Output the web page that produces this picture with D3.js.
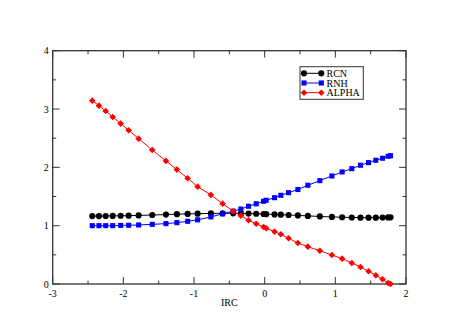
<!DOCTYPE html>
<html><head><meta charset="utf-8">
<script src="https://cdn.jsdelivr.net/npm/d3@7"></script>
<style>body{margin:0;background:#fff}svg{display:block}</style>
</head><body>
<svg id="c" width="457" height="335"></svg>
<script>
const irc = [-2.44,-2.345,-2.25,-2.151,-2.038,-1.925,-1.784,-1.591,-1.397,-1.242,-1.09,-0.949,-0.761,-0.595,-0.446,-0.337,-0.228,-0.12,-0.016,0.021,0.14,0.229,0.338,0.47,0.611,0.781,0.951,1.096,1.233,1.356,1.47,1.573,1.668,1.747,1.781];
const rcn = [1.165,1.165,1.166,1.168,1.17,1.172,1.176,1.183,1.19,1.197,1.202,1.206,1.21,1.212,1.212,1.21,1.207,1.204,1.2,1.198,1.193,1.189,1.183,1.176,1.168,1.158,1.15,1.145,1.14,1.138,1.137,1.138,1.14,1.142,1.143];
const rnh = [1.0,1.0,1.0,1.0,1.005,1.007,1.012,1.023,1.035,1.052,1.075,1.1,1.15,1.203,1.25,1.285,1.333,1.375,1.418,1.436,1.48,1.521,1.566,1.62,1.693,1.772,1.852,1.921,1.978,2.036,2.081,2.122,2.156,2.19,2.2];
const alpha = [3.144,3.058,2.967,2.864,2.75,2.636,2.492,2.298,2.11,1.961,1.813,1.669,1.527,1.377,1.247,1.172,1.093,1.034,0.978,0.955,0.897,0.852,0.784,0.703,0.64,0.57,0.497,0.434,0.36,0.292,0.218,0.149,0.081,0.017,0.0];
const xTicks = [-3,-2,-1,0,1,2];
const yTicks = [0,1,2,3,4];
const seriesNames = ["RCN","RNH","ALPHA"];
const seriesColors = ["#000000","#0000ff","#ff0000"];
const seriesShapes = [d3.symbolCircle, d3.symbolSquare, d3.symbolSquare];
const seriesSizes = [30, 26, 22];
const seriesRot = [0, 0, 45];

const svg = d3.select("#c");
const L=52.7, R=406, T=50.7, B=284;
const x = d3.scaleLinear().domain([-3,2]).range([L,R]);
const y = d3.scaleLinear().domain([0,4]).range([B,T]);
const font = "'Liberation Serif', 'Times New Roman', serif";
const axCol = "#333";

svg.append("rect").attr("x",L).attr("y",T).attr("width",R-L).attr("height",B-T)
  .attr("fill","none").attr("stroke",axCol).attr("stroke-width",1.3);

const xMinor = d3.range(-2.5,2,1);
const yMinor = d3.range(0.5,4,1);
const tk = svg.append("g").attr("stroke",axCol).attr("stroke-width",1);
xTicks.forEach(v=>{ tk.append("line").attr("x1",x(v)).attr("x2",x(v)).attr("y1",B).attr("y2",B-7);
  tk.append("line").attr("x1",x(v)).attr("x2",x(v)).attr("y1",T).attr("y2",T+7);});
xMinor.forEach(v=>{ tk.append("line").attr("x1",x(v)).attr("x2",x(v)).attr("y1",B).attr("y2",B-3.5);
  tk.append("line").attr("x1",x(v)).attr("x2",x(v)).attr("y1",T).attr("y2",T+3.5);});
yTicks.forEach(v=>{ tk.append("line").attr("y1",y(v)).attr("y2",y(v)).attr("x1",L).attr("x2",L+7);
  tk.append("line").attr("y1",y(v)).attr("y2",y(v)).attr("x1",R).attr("x2",R-7);});
yMinor.forEach(v=>{ tk.append("line").attr("y1",y(v)).attr("y2",y(v)).attr("x1",L).attr("x2",L+3.5);
  tk.append("line").attr("y1",y(v)).attr("y2",y(v)).attr("x1",R).attr("x2",R-3.5);});

svg.append("g").selectAll("text").data(xTicks).join("text")
  .attr("x",d=>x(d)).attr("y",B+13).attr("text-anchor","middle")
  .attr("font-family",font).attr("font-size",10).text(d=>d);
svg.append("g").selectAll("text").data(yTicks).join("text")
  .attr("x",L-4).attr("y",d=>y(d)+3.5).attr("text-anchor","end")
  .attr("font-family",font).attr("font-size",10).text(d=>d);
svg.append("text").attr("x",(x(-0.5))).attr("y",B+21.5).attr("text-anchor","middle")
  .attr("font-family",font).attr("font-size",10).text("IRC");

const data = [rcn, rnh, alpha];
const line = d3.line().x((d,i)=>x(irc[i])).y(d=>y(d));
data.forEach((s,k)=>{
  const g = svg.append("g");
  g.append("path").datum(s).attr("d",line).attr("fill","none")
    .attr("stroke",seriesColors[k]).attr("stroke-width",1);
  g.selectAll("path.m").data(s).join("path").attr("class","m")
    .attr("transform",(d,i)=>`translate(${x(irc[i])},${y(d)}) rotate(${seriesRot[k]})`)
    .attr("d",d3.symbol().type(seriesShapes[k]).size(seriesSizes[k]))
    .attr("fill",seriesColors[k]);
});

const lg = svg.append("g");
lg.append("rect").attr("x",300).attr("y",66.7).attr("width",63.3).attr("height",32.6)
  .attr("fill","#fff").attr("stroke",axCol).attr("stroke-width",1);
seriesNames.forEach((n,k)=>{
  const yy = 73.3 + k*9.7;
  lg.append("line").attr("x1",304).attr("x2",321.3).attr("y1",yy).attr("y2",yy)
    .attr("stroke",seriesColors[k]).attr("stroke-width",1);
  [304,321.3].forEach(xx=>lg.append("path").attr("transform",`translate(${xx},${yy}) rotate(${seriesRot[k]})`)
    .attr("d",d3.symbol().type(seriesShapes[k]).size(seriesSizes[k])).attr("fill",seriesColors[k]));
  lg.append("text").attr("x",326.5).attr("y",yy+3.5).attr("font-family",font)
    .attr("font-size",10).text(n);
});
</script>
</body></html>
